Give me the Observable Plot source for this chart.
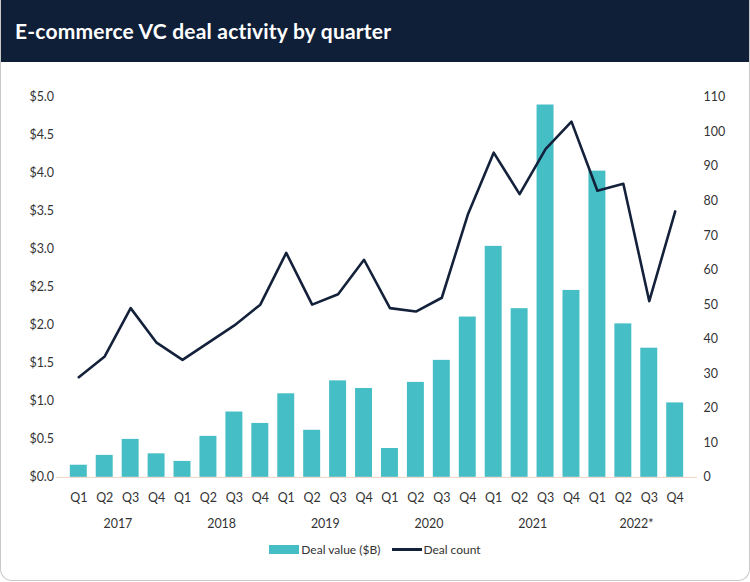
<!DOCTYPE html>
<html>
<head>
<meta charset="utf-8">
<script src="https://cdn.jsdelivr.net/npm/d3@7"></script>
<script src="https://cdn.jsdelivr.net/npm/@observablehq/plot@0.6"></script>
<style>
  html, body { margin: 0; padding: 0; background: #fff; }
  #card { width: 750px; height: 581px; box-sizing: border-box; border: 1.5px solid #c9c9c9; border-top: none; border-radius: 0 0 12px 12px; overflow: hidden; position: relative; font-family: Lato, sans-serif; }
  #header { height: 62px; background: #0f1f38; color: #fff; font-size: 21px; font-weight: 700; line-height: 62px; padding-left: 14px; letter-spacing: 0.2px; }
  #legend { display: flex; justify-content: center; align-items: center; font-size: 12px; color: #333; margin-top: 7px; }
  .sw { display: inline-block; width: 30px; height: 9px; background: #45bec6; margin-right: 2px; }
  .ln { display: inline-block; width: 30px; height: 3px; background: #14213a; margin-left: 12px; margin-right: 1px; }
</style>
</head>
<body>
<div id="card">
  <div id="header">E-commerce VC deal activity by quarter</div>
  <div id="chart"></div>
  <div id="legend"><span class="sw"></span><span>Deal value ($B)</span><span class="ln"></span><span>Deal count</span></div>
</div>
<script>
const years = ["2017", "2018", "2019", "2020", "2021", "2022*"];
const quarters = ["Q1", "Q2", "Q3", "Q4"];
const dealValue = [
  0.16, 0.29, 0.50, 0.31,
  0.21, 0.54, 0.86, 0.71,
  1.10, 0.62, 1.27, 1.17,
  0.38, 1.25, 1.54, 2.11,
  3.04, 2.22, 4.90, 2.46,
  4.03, 2.02, 1.70, 0.98
];
const dealCount = [
  29, 35, 49, 39,
  34, 39, 44, 50,
  65, 50, 53, 63,
  49, 48, 52, 76,
  94, 82, 95, 103,
  83, 85, 51, 77
];
const leftTicks = [0, 0.5, 1.0, 1.5, 2.0, 2.5, 3.0, 3.5, 4.0, 4.5, 5.0];
const rightTicks = [0, 10, 20, 30, 40, 50, 60, 70, 80, 90, 100, 110];

const valueMax = 5;
const countMax = 110;
const keys = years.flatMap(y => quarters.map(q => y + " " + q));
const data = keys.map((k, i) => ({key: k, value: dealValue[i], count: dealCount[i]}));

const chart = Plot.plot({
  width: 750,
  height: 474,
  marginTop: 35,
  marginBottom: 58,
  marginLeft: 55,
  marginRight: 52,
  style: {fontFamily: "Lato, sans-serif", fontSize: "12.5px", color: "#333"},
  x: {type: "band", domain: keys, paddingInner: 0.36, paddingOuter: 0.36, axis: null},
  y: {domain: [0, valueMax], axis: null},
  marks: [
    Plot.barY(data, {x: "key", y: "value", fill: "#45bec6"}),
    Plot.ruleY([0], {stroke: "#f0d2c4", strokeWidth: 1}),
    Plot.line(data, {x: "key", y: d => d.count * valueMax / countMax, stroke: "#14213a", strokeWidth: 2.6}),
    Plot.axisY(leftTicks, {anchor: "left", label: null, tickSize: 0, tickPadding: 27, textAnchor: "start", tickFormat: d => "$" + d.toFixed(1)}),
    Plot.axisY(rightTicks.map(t => t * valueMax / countMax), {anchor: "right", label: null, tickSize: 0, tickPadding: 6, tickFormat: d => String(Math.round(d * countMax / valueMax))}),
    Plot.axisX(keys, {anchor: "bottom", label: null, tickSize: 0, tickPadding: 16, tickFormat: d => d.split(" ")[1]}),
    Plot.text(years, {x: d => d + " Q2", y: 0, dx: 13.2, dy: 47, text: d => d, fill: "#333"})
  ]
});
document.getElementById("chart").appendChild(chart);
</script>
</body>
</html>
